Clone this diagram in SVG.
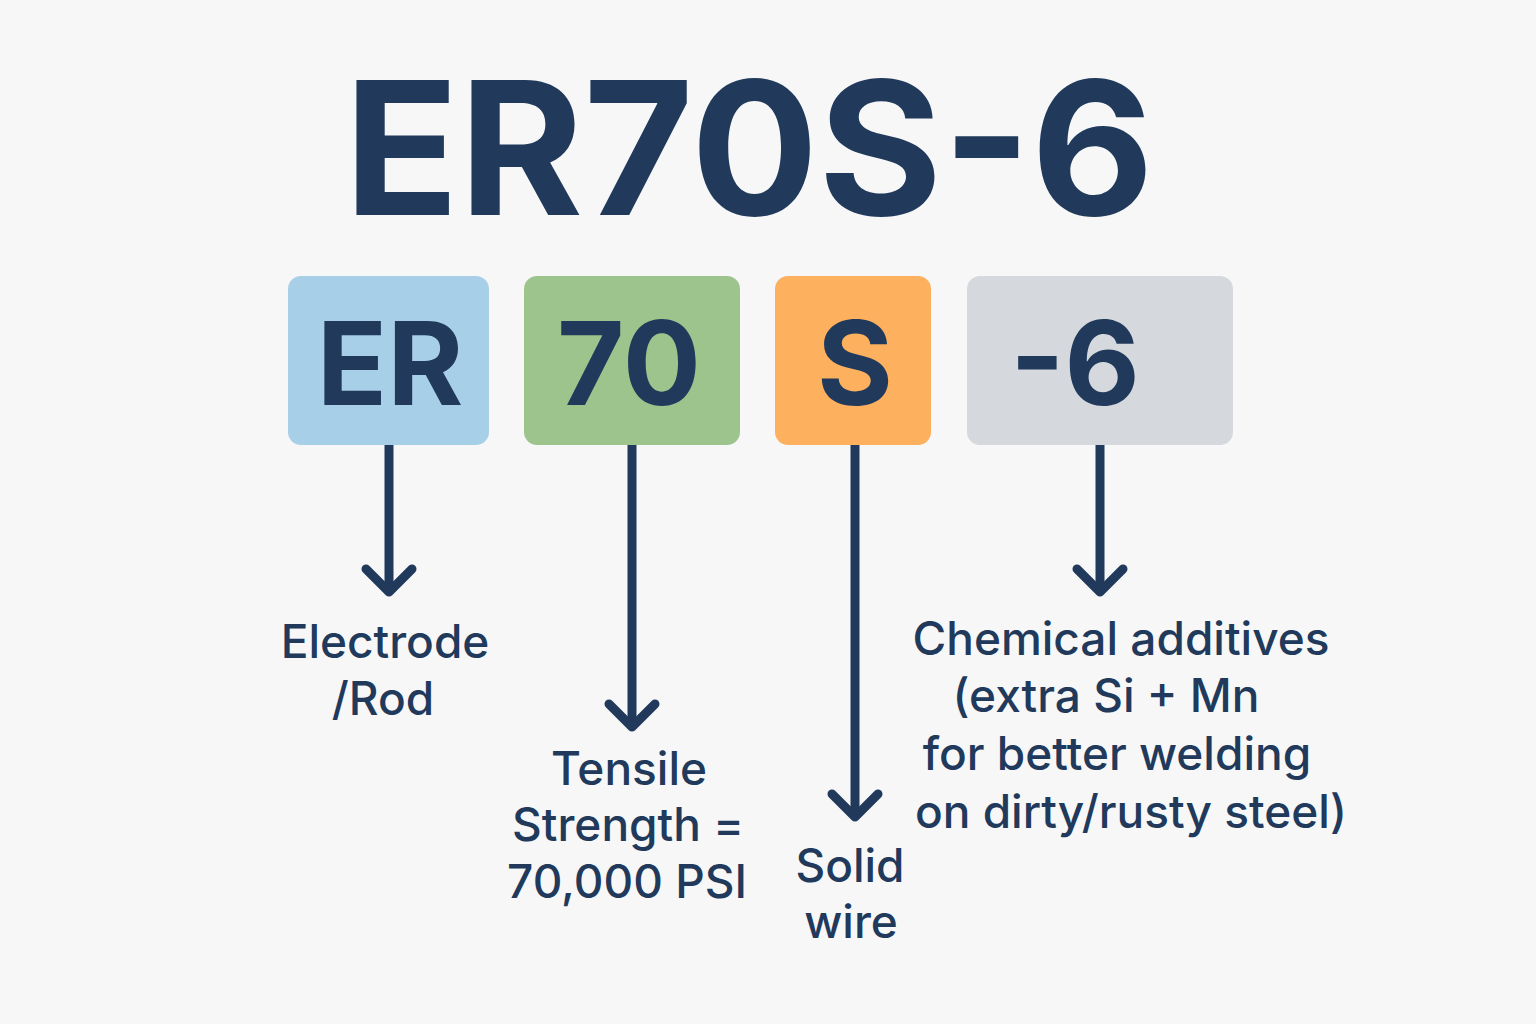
<svg xmlns="http://www.w3.org/2000/svg" width="1536" height="1024" viewBox="0 0 1536 1024">
  <defs>
    <style>
      .title { font-family: Inter, "Open Sans", "Liberation Sans", sans-serif; font-weight: 700; fill: #213a5c; }
      .code { font-family: Inter, "Open Sans", "Liberation Sans", sans-serif; font-weight: 700; font-size: 116px; fill: #213a5c; text-anchor: middle; }
      .lbl { font-family: Inter, "Open Sans", "Liberation Sans", sans-serif; font-weight: 500; font-size: 46px; fill: #213a5c; text-anchor: middle; }
      .conn { stroke: #213a5c; stroke-width: 9; fill: none; }
    </style>
    <marker id="chev" markerUnits="userSpaceOnUse" viewBox="-32 -32 64 64" refX="0" refY="0" markerWidth="64" markerHeight="64" orient="auto">
      <path d="M-23,-23 L0,0 L-23,23" fill="none" stroke="#213a5c" stroke-width="9" stroke-linecap="round" stroke-linejoin="round"/>
    </marker>
  </defs>
  <rect width="1536" height="1024" fill="#f7f7f7"/>

  <g id="title">
    <text class="title" x="344" y="215" font-size="186" textLength="810" lengthAdjust="spacingAndGlyphs">ER70S-6</text>
  </g>

  <g id="node-er">
    <rect x="288" y="276" width="201" height="169" rx="13" fill="#a8cfe8"/>
    <text class="code" x="390" y="405">ER</text>
  </g>
  <g id="node-70">
    <rect x="524" y="276" width="216" height="169" rx="13" fill="#9dc48c"/>
    <text class="code" x="629" y="405">70</text>
  </g>
  <g id="node-s">
    <rect x="775" y="276" width="156" height="169" rx="13" fill="#fdb05e"/>
    <text class="code" x="855" y="405">S</text>
  </g>
  <g id="node-6">
    <rect x="967" y="276" width="266" height="169" rx="13" fill="#d5d8dc"/>
    <text class="code" x="1075" y="405">-6</text>
  </g>

  <g id="connectors">
    <line class="conn" x1="389" y1="445" x2="389" y2="592" marker-end="url(#chev)"/>
    <line class="conn" x1="632" y1="445" x2="632" y2="727" marker-end="url(#chev)"/>
    <line class="conn" x1="855" y1="445" x2="855" y2="817" marker-end="url(#chev)"/>
    <line class="conn" x1="1100" y1="445" x2="1100" y2="592" marker-end="url(#chev)"/>
  </g>

  <g id="label-er">
    <text class="lbl" x="385" y="658">Electrode</text>
    <text class="lbl" x="383" y="715">/Rod</text>
  </g>
  <g id="label-70">
    <text class="lbl" x="629" y="785">Tensile</text>
    <text class="lbl" x="628" y="841">Strength =</text>
    <text class="lbl" x="627" y="898">70,000 PSI</text>
  </g>
  <g id="label-s">
    <text class="lbl" x="850" y="882">Solid</text>
    <text class="lbl" x="851" y="938">wire</text>
  </g>
  <g id="label-6">
    <text class="lbl" x="1121" y="655">Chemical additives</text>
    <text class="lbl" x="1106" y="712">(extra Si + Mn</text>
    <text class="lbl" x="1117" y="770">for better welding</text>
    <text class="lbl" x="1131" y="828">on dirty/rusty steel)</text>
  </g>
</svg>
